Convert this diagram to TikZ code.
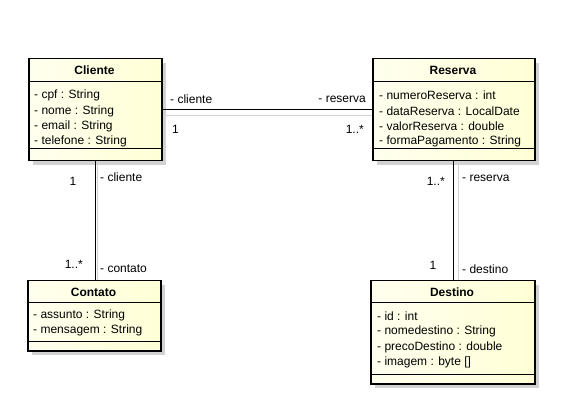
\documentclass[tikz,border=0pt]{standalone}
\usepackage{fontspec}
\setmainfont{Liberation Sans}
\usetikzlibrary{calc}
\definecolor{classfill}{RGB}{255,255,214}
\definecolor{shadowgray}{RGB}{210,210,210}
\tikzset{
  x=1pt, y=-1pt,
  classbox/.style={draw=black, line width=1.5pt, left color=white!60!classfill, right color=classfill, inner sep=0pt, anchor=north west},
  shadowbox/.style={fill=shadowgray, draw=none},
  sep/.style={draw=black, line width=1pt},
  attr/.style={anchor=west, inner sep=0pt, font=\fontsize{12}{14}\selectfont},
  cname/.style={inner sep=0pt, font=\fontsize{12}{14}\selectfont\bfseries},
  lbl/.style={inner sep=0pt, font=\fontsize{12}{14}\selectfont},
  assoc/.style={draw=black, line width=1pt},
  assocshadow/.style={draw=shadowgray, line width=1pt},
}
\begin{document}
\begin{tikzpicture}
\useasboundingbox[fill=white] (0,0) rectangle (568,414);

% ---------- shadows ----------
\fill[shadowbox] (33,63) rectangle (166,165);
\fill[shadowbox] (377,63) rectangle (539,165);
\fill[shadowbox] (32,285) rectangle (165,355);
\fill[shadowbox] (375,285) rectangle (539,388);

% ---------- Cliente ----------
\node[classbox, minimum width=133pt, minimum height=102pt] (cliente) at (28,58) {};
\draw[sep] (28,82) -- (161,82);
\draw[sep] (28,149) -- (161,149);
\node[cname] (clienteName) at (94.5,70) {Cliente};
\node[attr] (c1) at (34,95) {- cpf : String};
\node[attr] (c2) at (34,111) {- nome : String};
\node[attr] (c3) at (34,126) {- email : String};
\node[attr] (c4) at (34,141) {- telefone : String};

% ---------- Reserva ----------
\node[classbox, minimum width=162pt, minimum height=102pt] (reserva) at (372,58) {};
\draw[sep] (372,82) -- (534,82);
\draw[sep] (372,149) -- (534,149);
\node[cname] (reservaName) at (453,70) {Reserva};
\node[attr] (r1) at (379,95) {- numeroReserva : int};
\node[attr] (r2) at (379,111) {- dataReserva : LocalDate};
\node[attr] (r3) at (379,126) {- valorReserva : double};
\node[attr] (r4) at (379,141) {- formaPagamento : String};

% ---------- Contato ----------
\node[classbox, minimum width=133pt, minimum height=70pt] (contato) at (27,280) {};
\draw[sep] (27,303) -- (160,303);
\draw[sep] (27,341) -- (160,341);
\node[cname] (contatoName) at (93.5,292) {Contato};
\node[attr] (ct1) at (33,315) {- assunto : String};
\node[attr] (ct2) at (33,330) {- mensagem : String};

% ---------- Destino ----------
\node[classbox, minimum width=164pt, minimum height=103pt] (destino) at (370,280) {};
\draw[sep] (370,303) -- (534,303);
\draw[sep] (370,374) -- (534,374);
\node[cname] (destinoName) at (452,292) {Destino};
\node[attr] (d1) at (377,316) {- id : int};
\node[attr] (d2) at (377,331) {- nomedestino : String};
\node[attr] (d3) at (377,347) {- precoDestino : double};
\node[attr] (d4) at (377,362) {- imagem : byte []};

% ---------- associations ----------
\draw[assocshadow] ($(cliente.east)+(1,6)$) -- ($(reserva.west)+(0,6)$);
\draw[assoc] (cliente.east) -- (reserva.west);
\draw[assocshadow] ($(cliente.south)+(2,1)$) -- ($(contato.north)+(3,0)$);
\draw[assoc] (cliente.south) -- (cliente.south |- contato.north);
\draw[assocshadow] ($(reserva.south)+(5,1)$) -- ($(reserva.south |- destino.north)+(5,0)$);
\draw[assoc] (reserva.south) -- (reserva.south |- destino.north);

% ---------- role / multiplicity labels ----------
\node[lbl, anchor=west] (l1) at (170,99) {- cliente};
\node[lbl, anchor=east] (l2) at (366,99) {- reserva};
\node[lbl, anchor=west] (l3) at (172,129) {1};
\node[lbl, anchor=east] (l4) at (364,129) {1..*};

\node[lbl] (l5) at (73,181) {1};
\node[lbl, anchor=west] (l6) at (100,177) {- cliente};
\node[lbl, anchor=east] (l7) at (83,264) {1..*};
\node[lbl, anchor=west] (l8) at (100,269) {- contato};

\node[lbl, anchor=east] (l9) at (445,181) {1..*};
\node[lbl, anchor=west] (l10) at (462,178) {- reserva};
\node[lbl] (l11) at (433,265) {1};
\node[lbl, anchor=west] (l12) at (462,269) {- destino};
\end{tikzpicture}
\end{document}
